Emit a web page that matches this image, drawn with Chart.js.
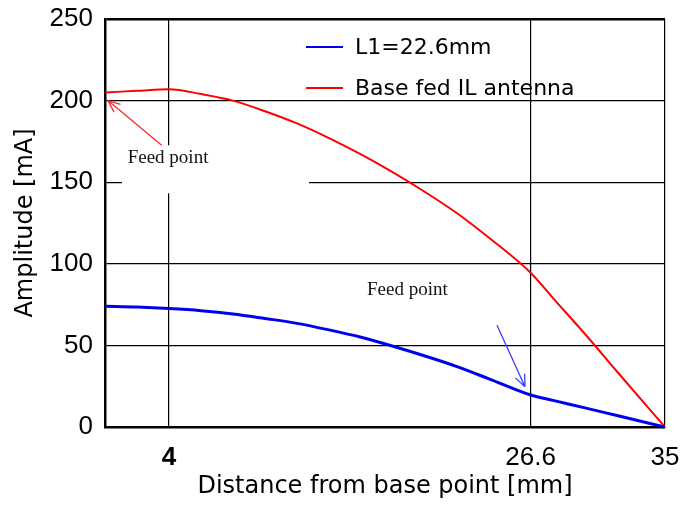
<!DOCTYPE html>
<html>
<head>
<meta charset="utf-8">
<script src="https://cdn.jsdelivr.net/npm/chart.js@4"></script>
<style>
  html, body { margin: 0; padding: 0; background: #fff; }
  #wrap { width: 683px; height: 509px; }
</style>
</head>
<body>
<div id="wrap"><canvas id="grafico"></canvas></div>
<script>
// distance from base point [mm]
var distBlue = [0, 2, 4, 6, 8, 10, 12, 14, 16, 18, 20, 22, 24, 26.6, 28, 30, 32, 35];
var ampBlue = [74, 73.5, 72.6, 71.3, 69.3, 66.5, 63.5, 59.5, 55, 49.5, 43.5, 37, 29.5, 19.6, 16.3, 11.7, 7, 0];
var distRed = [0, 2, 4, 6, 8, 10, 12, 14, 16, 18, 20, 22, 24, 26.6, 28, 30, 32, 35];
var ampRed = [205, 206, 207, 204, 200, 193.5, 186, 177, 167, 156, 144, 131, 116, 94.5, 79, 57, 34, 0];
var seriesNames = ["L1=22.6mm", "Base fed IL antenna"];
var xTicks = [4, 26.6, 35];
var yTicks = [0, 50, 100, 150, 200, 250];

// "Feed point" notes, in data units
var notas = [
  {texto: "Feed point", x: 3.94, y: 165, caixa: [1.06, 172.6, 12.75, 143.2], de: [3.54, 172.6], para: [0.19, 200], cor: "#ff2a2a"},
  {texto: "Feed point", x: 18.9, y: 83.8, caixa: null, de: [24.5, 62.4], para: [26.25, 24.7], cor: "#3a3aff"}
];

function pontos(xs, ys){
  var out = [];
  for (let i = 0; i < xs.length; i++) out.push({x: xs[i], y: ys[i]});
  return out;
}

function seta(ctx, x1, y1, x2, y2){
  var ang = Math.atan2(y2 - y1, x2 - x1), tam = 13;
  ctx.beginPath();
  ctx.moveTo(x1, y1); ctx.lineTo(x2, y2);
  ctx.moveTo(x2, y2); ctx.lineTo(x2 - tam*Math.cos(ang - 0.4), y2 - tam*Math.sin(ang - 0.4));
  ctx.moveTo(x2, y2); ctx.lineTo(x2 - tam*Math.cos(ang + 0.4), y2 - tam*Math.sin(ang + 0.4));
  ctx.stroke();
}

var pluginNotas = {
  id: "notas",
  beforeDatasetsDraw: function(chart){
    var ctx = chart.ctx, sx = chart.scales.x, sy = chart.scales.y;
    ctx.save();
    notas.forEach(function(n){
      if (n.caixa) {
        var x1 = sx.getPixelForValue(n.caixa[0]), y1 = sy.getPixelForValue(n.caixa[1]);
        var x2 = sx.getPixelForValue(n.caixa[2]), y2 = sy.getPixelForValue(n.caixa[3]);
        ctx.fillStyle = "#fff";
        ctx.fillRect(x1, y1, x2 - x1, y2 - y1);
      }
    });
    ctx.restore();
  },
  afterDatasetsDraw: function(chart){
    var ctx = chart.ctx, sx = chart.scales.x, sy = chart.scales.y;
    ctx.save();
    ctx.font = "19px 'Liberation Serif', 'DejaVu Serif', serif";
    ctx.textAlign = "center";
    ctx.textBaseline = "middle";
    notas.forEach(function(n){
      ctx.fillStyle = "#111";
      ctx.fillText(n.texto, sx.getPixelForValue(n.x), sy.getPixelForValue(n.y));
      ctx.strokeStyle = n.cor;
      ctx.lineWidth = 1.3;
      seta(ctx, sx.getPixelForValue(n.de[0]), sy.getPixelForValue(n.de[1]),
        sx.getPixelForValue(n.para[0]), sy.getPixelForValue(n.para[1]));
    });
    // legenda
    ctx.font = "22px 'DejaVu Sans', sans-serif";
    ctx.textAlign = "left";
    chart.data.datasets.forEach(function(ds, i){
      var y = 47 + i*41;
      ctx.strokeStyle = ds.borderColor;
      ctx.lineWidth = 2;
      ctx.beginPath(); ctx.moveTo(306, y); ctx.lineTo(343, y); ctx.stroke();
      ctx.fillStyle = "#000";
      ctx.fillText(ds.label, 355, y + 1);
    });
    ctx.restore();
  }
};

var fonteTick = "'Liberation Sans', sans-serif";

new Chart(document.getElementById("grafico"), {
  type: "line",
  data: {
    datasets: [
      {label: seriesNames[0], data: pontos(distBlue, ampBlue), borderColor: "#0000ee", borderWidth: 3, pointRadius: 0, cubicInterpolationMode: "monotone"},
      {label: seriesNames[1], data: pontos(distRed, ampRed), borderColor: "#ff0000", borderWidth: 2, pointRadius: 0, cubicInterpolationMode: "monotone"}
    ]
  },
  options: {
    responsive: true,
    maintainAspectRatio: false,
    animation: false,
    layout: { padding: { top: 19, right: 18, left: 0, bottom: 0 } },
    plugins: { legend: { display: false }, tooltip: { enabled: false } },
    scales: {
      x: {
        type: "linear", min: 0, max: 35,
        afterBuildTicks: function(s){ s.ticks = xTicks.map(function(v){ return {value: v}; }); },
        afterFit: function(s){ s.height = 82; s.paddingLeft = 0; s.paddingRight = 0; },
        grid: { color: "#000", lineWidth: 1.2, drawTicks: false },
        border: { color: "#000", width: 2.5 },
        ticks: {
          color: "#000", padding: 15,
          font: function(c){ return {family: fonteTick, size: 26, weight: (c.tick && c.tick.value === 4) ? "bold" : "normal"}; },
          callback: function(v){ return String(v); }
        },
        title: { display: true, text: "Distance from base point [mm]", color: "#000",
          font: {family: "'DejaVu Sans', sans-serif", size: 24}, padding: {top: 0, bottom: 8} }
      },
      y: {
        min: 0, max: 250,
        afterBuildTicks: function(s){ s.ticks = yTicks.map(function(v){ return {value: v}; }); },
        afterFit: function(s){ s.width = 105; s.paddingTop = 0; s.paddingBottom = 0; },
        grid: { color: "#000", lineWidth: function(c){ return c.tick && c.tick.value === 250 ? 2.5 : 1.2; }, drawTicks: false },
        border: { color: "#000", width: 2.5 },
        ticks: { color: "#000", padding: 12, font: {family: fonteTick, size: 26} },
        title: { display: true, text: "Amplitude [mA]", color: "#000",
          font: {family: "'DejaVu Sans', sans-serif", size: 24}, padding: {top: 11, bottom: 0} }
      }
    }
  },
  plugins: [pluginNotas]
});
</script>
</body>
</html>
